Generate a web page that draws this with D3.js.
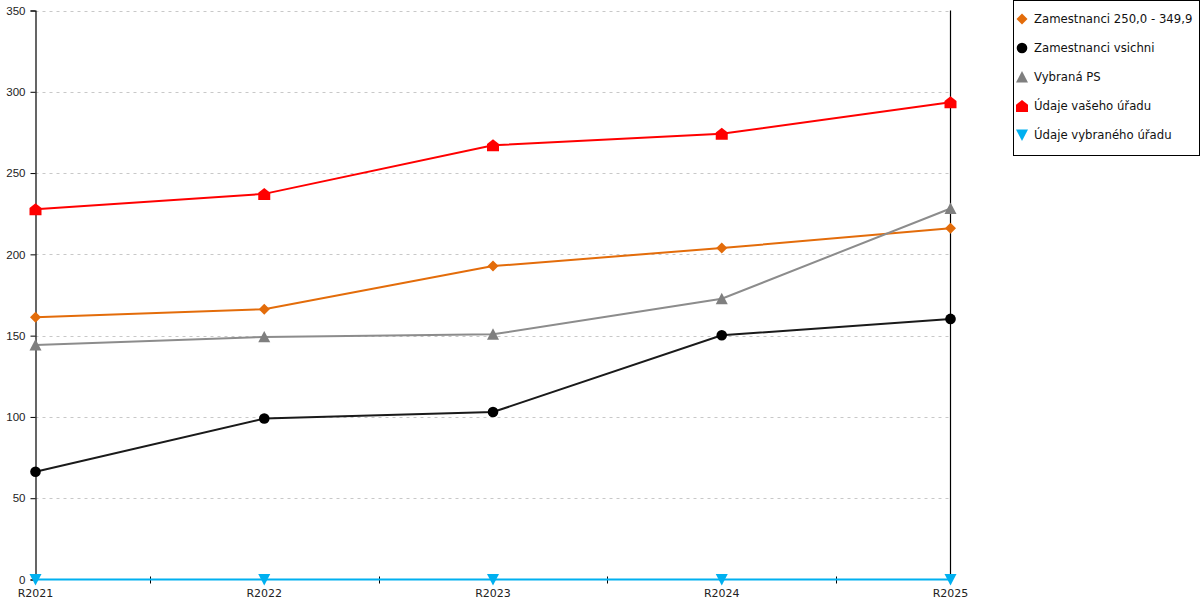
<!DOCTYPE html>
<html>
<head>
<meta charset="utf-8">
<script src="https://cdn.jsdelivr.net/npm/d3@7"></script>
<style>
    body { margin: 0; background: #fff; }
    svg { display: block; font-family: "DejaVu Sans", sans-serif; }
</style>
</head>
<body>
<svg id="chart" width="1200" height="600"></svg>
<script>
// Categories and values
const years = ['R2021', 'R2022', 'R2023', 'R2024', 'R2025'];
const yTicks = [0, 50, 100, 150, 200, 250, 300, 350];

const zamestnanciPasmo = [161.3, 166.3, 192.8, 203.9, 216.0];
const zamestnanciVsichni = [66.3, 99.0, 103.0, 150.2, 160.3];
const vybranaPS = [144.2, 149.2, 150.8, 172.7, 228.2];
const udajeVasehoUradu = [227.8, 237.2, 267.1, 274.2, 293.6];
const udajeVybranehoUradu = [0, 0, 0, 0, 0];

const series = [
    { name: 'Zamestnanci 250,0 - 349,9', values: zamestnanciPasmo, color: '#e36c0a', shape: 'diamond' },
    { name: 'Zamestnanci vsichni', values: zamestnanciVsichni, color: '#000000', lineColor: '#1a1a1a', shape: 'circle' },
    { name: 'Vybraná PS', values: vybranaPS, color: '#7f7f7f', lineColor: '#8c8c8c', shape: 'triangleUp' },
    { name: 'Údaje vašeho úřadu', values: udajeVasehoUradu, color: '#ff0000', shape: 'house' },
    { name: 'Údaje vybraného úřadu', values: udajeVybranehoUradu, color: '#00b0f0', shape: 'triangleDown' }
];

const svg = d3.select('#chart');

const x = d3.scalePoint()
    .domain(years)
    .range([35.5, 950.5]);

const y = d3.scaleLinear()
    .domain([0, 350])
    .range([579.5, 10.5]);

// Gridlines
svg.append('g')
    .selectAll('line')
    .data(yTicks.filter(d => d > 0))
    .join('line')
    .attr('x1', x(years[0]))
    .attr('x2', x(years[years.length - 1]))
    .attr('y1', d => Math.round(y(d)) + 0.5)
    .attr('y2', d => Math.round(y(d)) + 0.5)
    .attr('stroke', '#c8c8c8')
    .attr('stroke-dasharray', '3,4');

// Y axis
const yAxis = svg.append('g')
    .attr('transform', `translate(${x(years[0])},0)`)
    .call(d3.axisLeft(y).tickValues(yTicks).tickSize(5).tickPadding(5));
yAxis.select('.domain').attr('stroke', '#000').attr('stroke-width', 1.2);
yAxis.selectAll('.tick line').attr('stroke', '#000');
yAxis.selectAll('.tick text').attr('fill', '#222').style('font-size', '11.5px');

// Right border line
svg.append('line')
    .attr('x1', x(years[years.length - 1]))
    .attr('x2', x(years[years.length - 1]))
    .attr('y1', y(350))
    .attr('y2', y(0))
    .attr('stroke', '#000')
    .attr('stroke-width', 1.2);

// X axis baseline
svg.append('line')
    .attr('x1', x(years[0]))
    .attr('x2', x(years[years.length - 1]))
    .attr('y1', y(0))
    .attr('y2', y(0))
    .attr('stroke', '#000');

// X ticks between categories
const midTicks = years.slice(0, -1).map((c, i) => (x(c) + x(years[i + 1])) / 2);
svg.append('g')
    .selectAll('line')
    .data(midTicks)
    .join('line')
    .attr('x1', d => Math.round(d) + 0.5)
    .attr('x2', d => Math.round(d) + 0.5)
    .attr('y1', y(0) - 3)
    .attr('y2', y(0) + 4)
    .attr('stroke', '#000');

// X labels
svg.append('g')
    .selectAll('text')
    .data(years)
    .join('text')
    .attr('x', d => x(d))
    .attr('y', 597)
    .attr('text-anchor', 'middle')
    .attr('fill', '#222')
    .style('font-size', '11px')
    .text(d => d);

// Marker shapes
function markerPath(shape, s) {
    switch (shape) {
        case 'diamond':
            return `M0,${-s}L${s},0L0,${s}L${-s},0Z`;
        case 'circle':
            return d3.symbol(d3.symbolCircle, Math.PI * s * s)();
        case 'triangleUp':
            return `M0,${-s}L${s},${s * 0.9}L${-s},${s * 0.9}Z`;
        case 'triangleDown':
            return `M0,${s}L${s},${-s * 0.9}L${-s},${-s * 0.9}Z`;
        case 'house':
            return `M0,${-s}L${s},${-s * 0.2}L${s},${s}L${-s},${s}L${-s},${-s * 0.2}Z`;
    }
}
const markerSize = { diamond: 5.5, circle: 5.3, triangleUp: 6, triangleDown: 6, house: 6 };

const line = d3.line()
    .x((d, i) => x(years[i]))
    .y(d => y(d));

series.forEach(s => {
    const g = svg.append('g');
    g.append('path')
        .datum(s.values)
        .attr('fill', 'none')
        .attr('stroke', s.lineColor || s.color)
        .attr('stroke-width', 2)
        .attr('d', line);
    g.selectAll('path.m')
        .data(s.values)
        .join('path')
        .attr('class', 'm')
        .attr('transform', (d, i) => `translate(${x(years[i])},${y(d)})`)
        .attr('d', markerPath(s.shape, markerSize[s.shape]))
        .attr('fill', s.color);
});

// Legend
const legend = svg.append('g');
legend.append('rect')
    .attr('x', 1013.5)
    .attr('y', 0.5)
    .attr('width', 186)
    .attr('height', 155)
    .attr('fill', '#fff')
    .attr('stroke', '#000');

const legendItems = legend.selectAll('g')
    .data(series)
    .join('g')
    .attr('transform', (d, i) => `translate(1022,${19 + i * 29})`);

legendItems.append('path')
    .attr('d', d => markerPath(d.shape, markerSize[d.shape]))
    .attr('fill', d => d.color);

legendItems.append('text')
    .attr('x', 12)
    .attr('y', 4)
    .attr('fill', '#111')
    .style('font-size', '11.7px')
    .text(d => d.name);
</script>
</body>
</html>
